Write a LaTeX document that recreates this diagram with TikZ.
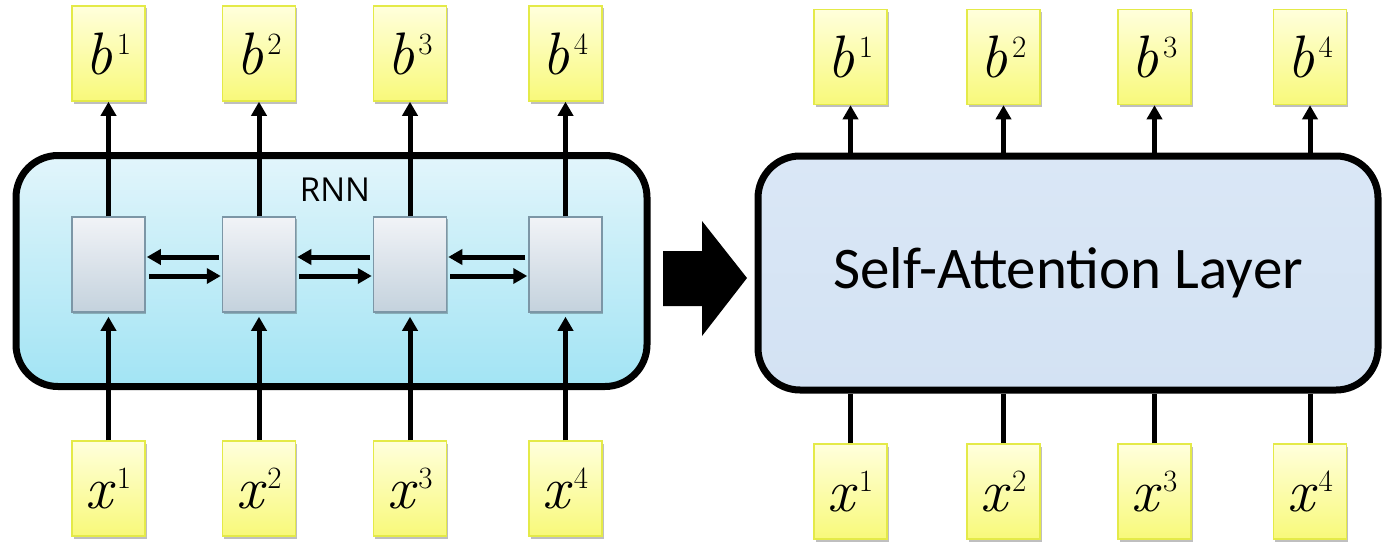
\documentclass[tikz,border=0pt]{standalone}
\usepackage{fontspec}
\newfontfamily\calib{Carlito}
\newfontfamily\opens{Open Sans}
\usetikzlibrary{arrows.meta,shadows}

\definecolor{yelT}{HTML}{FFFFDC}
\definecolor{yelB}{HTML}{F8F97A}
\definecolor{yelD}{HTML}{E4EA48}
\definecolor{rnnT}{HTML}{E2F5FB}
\definecolor{rnnB}{HTML}{A2E4F4}
\definecolor{cellT}{HTML}{F1F3F7}
\definecolor{cellB}{HTML}{C4D2DD}
\definecolor{cellD}{HTML}{7C96A6}
\definecolor{saT}{HTML}{DAE7F6}
\definecolor{saB}{HTML}{D3E2F3}

% italic symbol with an upright superscript index
\newcommand{\symidx}[2]{{\itshape #1}\kern0.07em\raisebox{0.33em}{\fontsize{31}{33}\selectfont #2}}

\tikzset{
  ybox/.style={draw=yelD, line width=1.5pt, top color=yelT, bottom color=yelB,
    minimum width=73pt, minimum height=95pt, inner sep=0pt,
    drop shadow={shadow xshift=1.5pt, shadow yshift=-2.5pt, opacity=0.25, fill=black},
    font=\fontsize{60}{62}\selectfont},
  cellbox/.style={draw=cellD, line width=1.5pt, top color=cellT, bottom color=cellB,
    minimum width=73pt, minimum height=95pt, inner sep=0pt,
    drop shadow={shadow xshift=1pt, shadow yshift=-2pt, opacity=0.25, fill=black}},
  bigbox/.style={draw=black, line width=7pt, rounded corners=42pt, inner sep=0pt},
  flow/.style={line width=5pt, -{Triangle[length=14pt,width=15pt]}},
  plain/.style={line width=5pt},
}

\begin{document}
\begin{tikzpicture}[x=1pt,y=-1pt]
\useasboundingbox (0,0) rectangle (1383,543);

% ---------- RNN block ----------
\node[bigbox, top color=rnnT, bottom color=rnnB,
      minimum width=631pt, minimum height=231pt] (rnn) at (331.5,271) {};
\node[font=\opens\fontsize{33}{36}\selectfont] (rnnlabel) at (335,190) {RNN};

\foreach \i/\x in {1/108.5,2/259,3/410,4/565.5}{
  \node[cellbox] (c\i) at (\x,264.5) {};
  \node[ybox] (lb\i) at (\x,53.5) {\symidx{b}{\i}};
  \node[ybox] (lx\i) at (\x,488.5) {\symidx{x}{\i}};
  \draw[flow] (c\i.north) -- (lb\i.south);
  \draw[flow, shorten >=4pt] (lx\i.north) -- (c\i.south);
}
\foreach \a/\b in {1/2,2/3,3/4}{
  \draw[flow, shorten <=3pt, shorten >=1pt] ([yshift=7.5pt]c\b.west) -- ([yshift=7.5pt]c\a.east);
  \draw[flow, shorten <=3pt, shorten >=1pt] ([yshift=-11.5pt]c\a.east) -- ([yshift=-11.5pt]c\b.west);
}

% ---------- transition arrow ----------
\fill[black] (663,251) -- (702,251) -- (702,221) -- (747,278) -- (702,336)
  -- (702,306) -- (663,306) -- cycle;

% ---------- self-attention block ----------
\node[bigbox, top color=saT, bottom color=saB,
      minimum width=620pt, minimum height=234pt,
      font=\calib\fontsize{59}{62}\selectfont] (sa) at (1068,273) {Self-Attention Layer};

\foreach \i/\x in {1/850.5,2/1003.5,3/1154.5,4/1310}{
  \node[ybox] (rb\i) at (\x,57) {\symidx{b}{\i}};
  \node[ybox] (rx\i) at (\x,491.5) {\symidx{x}{\i}};
  \draw[flow] (rb\i.south |- sa.north) -- (rb\i.south);
  \draw[plain] (rx\i.north) -- (rx\i.north |- sa.south);
}
\end{tikzpicture}
\end{document}
